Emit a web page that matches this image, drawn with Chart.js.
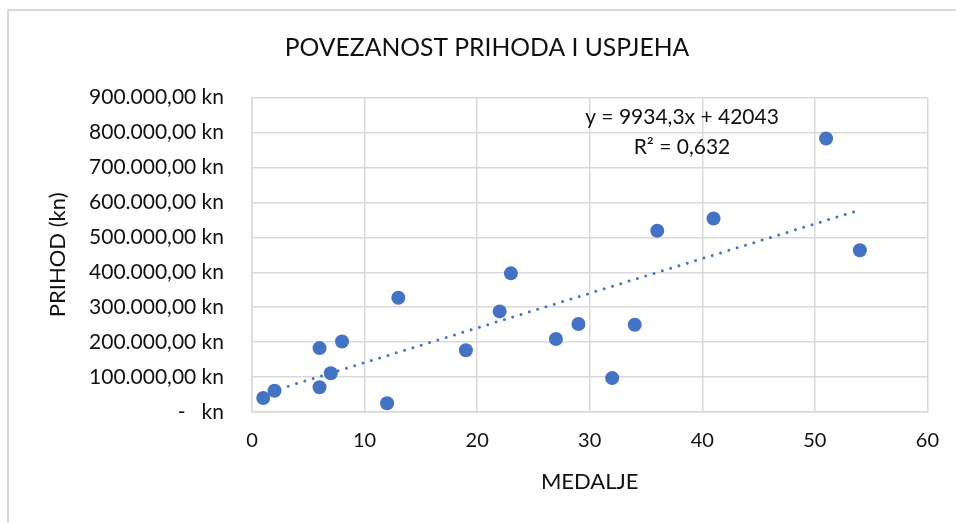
<!DOCTYPE html>
<html>
<head>
<meta charset="utf-8" />
<title>Povezanost prihoda i uspjeha</title>
<script src="https://cdn.jsdelivr.net/npm/chart.js"></script>
<style>
	html, body { margin: 0; padding: 0; background: #fff; }
	#wrap { width: 956px; height: 523px; position: relative; }
</style>
</head>
<body>
<div id="wrap"><canvas id="chart" width="956" height="523"></canvas></div>
<script>
	// data
	const medalje = [1, 2, 6, 6, 7, 8, 12, 13, 19, 22, 23, 27, 29, 32, 34, 36, 41, 51, 54];
	const prihod = [40000, 61000, 183000, 71000, 111000, 202000, 25000, 327000, 177000, 288000,
		397000, 209000, 252000, 97000, 250000, 519000, 554000, 783000, 463000];

	// trendline from the equation printed on the chart
	const trendSlope = 9934.3;
	const trendIntercept = 42043;
	const trendText = ["y = 9934,3x + 42043", "R\u00B2 = 0,632"];

	const xTicks = [0, 10, 20, 30, 40, 50, 60];
	const yTickLabels = ["-   kn", "100.000,00 kn", "200.000,00 kn", "300.000,00 kn", "400.000,00 kn",
		"500.000,00 kn", "600.000,00 kn", "700.000,00 kn", "800.000,00 kn", "900.000,00 kn"];

	const blue = "#4472C4";
	const grid = "#d9d9d9";
	const ink = "#111111";
	const font = "Lato, 'Open Sans', sans-serif";

	const xMin = Math.min(...medalje), xMax = Math.max(...medalje);
	const trend = [
		{ x: xMin, y: trendSlope * xMin + trendIntercept },
		{ x: xMax, y: trendSlope * xMax + trendIntercept }
	];

	// outer frame + equation text
	const extras = {
		id: "extras",
		beforeDraw(chart) {
			const c = chart.ctx;
			c.save();
			c.fillStyle = "#fff";
			c.fillRect(0, 0, chart.width, chart.height);
			c.strokeStyle = grid;
			c.lineWidth = 2;
			c.strokeRect(8, 10, 1000, 1000);
			c.restore();
		},
		afterDatasetsDraw(chart) {
			const c = chart.ctx;
			c.save();
			c.fillStyle = ink;
			c.font = "21px " + font;
			c.textAlign = "center";
			c.textBaseline = "middle";
			c.fillText(trendText[0], 682, 117);
			c.fillText(trendText[1], 682, 147);
			c.restore();
		}
	};

	new Chart(document.getElementById("chart"), {
		type: "scatter",
		data: {
			datasets: [{
				label: "Prihod",
				data: medalje.map((m, i) => ({ x: m, y: prihod[i] })),
				backgroundColor: blue,
				borderWidth: 0,
				pointRadius: 7,
				pointHoverRadius: 7,
				order: 1
			}, {
				label: "Trend",
				type: "line",
				data: trend,
				borderColor: blue,
				borderWidth: 3,
				borderDash: [0, 8.7],
				borderCapStyle: "round",
				pointRadius: 0,
				fill: false,
				order: 2
			}]
		},
		options: {
			responsive: false,
			animation: false,
			layout: { padding: { left: 45, right: 27, top: 0, bottom: 0 } },
			plugins: {
				legend: { display: false },
				tooltip: { enabled: false },
				title: {
					display: true,
					text: "POVEZANOST PRIHODA I USPJEHA",
					color: ink,
					font: { family: font, size: 24.7, weight: "normal" },
					padding: { top: 33, bottom: 35 }
				}
			},
			scales: {
				x: {
					type: "linear",
					min: 0, max: 60,
					afterBuildTicks(s) { s.ticks = xTicks.map(v => ({ value: v })); },
					afterFit(s) { s.height = 111; },
					grid: { color: grid, lineWidth: 1.5, drawTicks: false },
					border: { color: grid, width: 1.5 },
					ticks: { color: ink, font: { family: font, size: 20 }, padding: 17 },
					title: {
						display: true, text: "MEDALJE", color: ink,
						font: { family: font, size: 22 }, padding: { top: 0, bottom: 28 }
					}
				},
				y: {
					min: 0, max: 900000,
					afterBuildTicks(s) { s.ticks = yTickLabels.map((t, i) => ({ value: i * 100000 })); },
					afterFit(s) { s.width = 207; },
					grid: { color: grid, lineWidth: 1.5, drawTicks: false },
					border: { color: grid, width: 1.5 },
					ticks: {
						color: ink, font: { family: font, size: 21 }, padding: 28,
						callback: (v, i) => yTickLabels[i]
					},
					title: {
						display: true, text: "PRIHOD (kn)", color: ink,
						font: { family: font, size: 22 }, padding: { top: 0, bottom: 0 }
					}
				}
			}
		},
		plugins: [extras]
	});
</script>
</body>
</html>
